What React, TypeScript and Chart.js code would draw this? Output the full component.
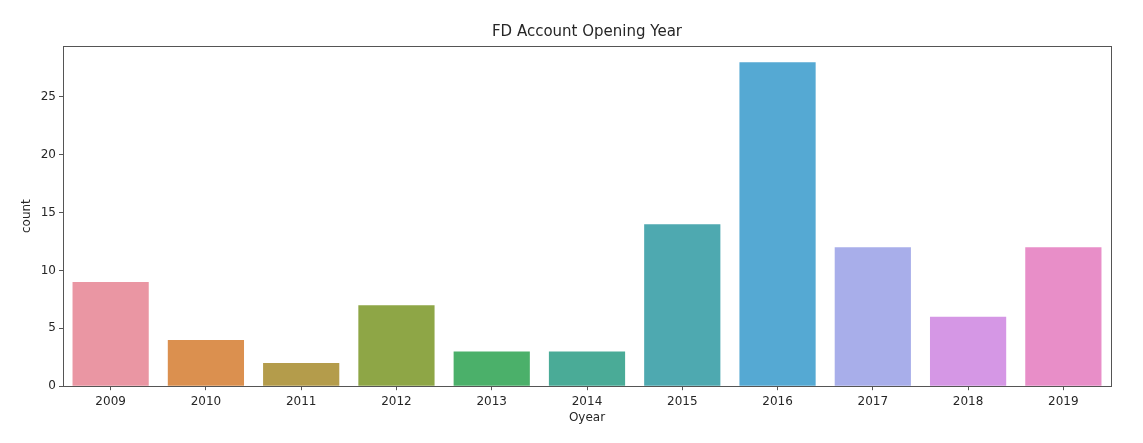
import { useEffect, useRef } from "react";
import Chart from "chart.js/auto";

const years = ["2009", "2010", "2011", "2012", "2013", "2014", "2015", "2016", "2017", "2018", "2019"];
const counts = [9, 4, 2, 7, 3, 3, 14, 28, 12, 6, 12];
const barColors = [
    "#ea96a3", "#db904f", "#b49c4b", "#8ea646", "#4bb06a", "#4aab97",
    "#4ea9b0", "#55a9d3", "#a8aeea", "#d597e5", "#e88ec8",
];
const yTicks = [0, 5, 10, 15, 20, 25];

const FONT = "'DejaVu Sans', sans-serif";
const TEXT = "#262626";
const AXIS = "#555555";

// draws the top and right edges of the axes frame
const framePlugin = {
    id: "frame",
    afterDraw(chart: any) {
        const { ctx, chartArea } = chart;
        ctx.save();
        ctx.strokeStyle = AXIS;
        ctx.lineWidth = 1;
        ctx.strokeRect(
            Math.round(chartArea.left) + 0.5,
            Math.round(chartArea.top) + 0.5,
            Math.round(chartArea.right - chartArea.left),
            Math.round(chartArea.bottom - chartArea.top)
        );
        ctx.restore();
    },
};

export const App = () => {
    const canvasRef: any = useRef(null);

    useEffect(() => {
        const ctx = canvasRef.current.getContext("2d");
        const myChart = new Chart(ctx, {
            type: "bar",
            data: {
                labels: years,
                datasets: [{
                    label: "count",
                    data: counts,
                    backgroundColor: barColors,
                    borderWidth: 0,
                    categoryPercentage: 1,
                    barPercentage: 0.8,
                }],
            },
            options: {
                animation: false,
                responsive: true,
                maintainAspectRatio: false,
                layout: { padding: { left: 20, right: 32, top: 0, bottom: 18 } },
                plugins: {
                    legend: { display: false },
                    tooltip: { enabled: false },
                    title: {
                        display: true,
                        fullSize: false,
                        text: "FD Account Opening Year",
                        color: TEXT,
                        font: { family: FONT, size: 15, weight: "normal" },
                        padding: { top: 23.5, bottom: 4.5 },
                    },
                },
                scales: {
                    x: {
                        grid: {
                            display: true,
                            drawOnChartArea: false,
                            offset: false,
                            tickLength: 4,
                            color: AXIS,
                        },
                        border: { color: AXIS, width: 1 },
                        ticks: {
                            color: TEXT,
                            padding: 4,
                            font: { family: FONT, size: 12 },
                            maxRotation: 0,
                        },
                        title: {
                            display: true,
                            text: "Oyear",
                            color: TEXT,
                            font: { family: FONT, size: 12 },
                            padding: { top: -2, bottom: 0 },
                        },
                    },
                    y: {
                        min: 0,
                        max: 29.4,
                        grid: {
                            display: true,
                            drawOnChartArea: false,
                            tickLength: 4,
                            color: AXIS,
                        },
                        border: { color: AXIS, width: 1 },
                        ticks: {
                            color: TEXT,
                            padding: 3,
                            stepSize: 5,
                            font: { family: FONT, size: 12 },
                        },
                        afterBuildTicks: (scale: any) => {
                            scale.ticks = yTicks.map((v) => ({ value: v }));
                        },
                        title: {
                            display: true,
                            text: "count",
                            color: TEXT,
                            font: { family: FONT, size: 12 },
                            padding: { top: 0, bottom: 0 },
                        },
                        afterFit: (scale: any) => { scale.width = 43; },
                    },
                },
            },
            plugins: [framePlugin],
        });

        return () => {
            myChart.destroy();
        };
    }, []);

    return (
        <div style={{ position: "fixed", left: 0, top: 0, width: 1143, height: 443, background: "#fff" }}>
            <canvas ref={canvasRef}></canvas>
        </div>
    );
};

export default App;
